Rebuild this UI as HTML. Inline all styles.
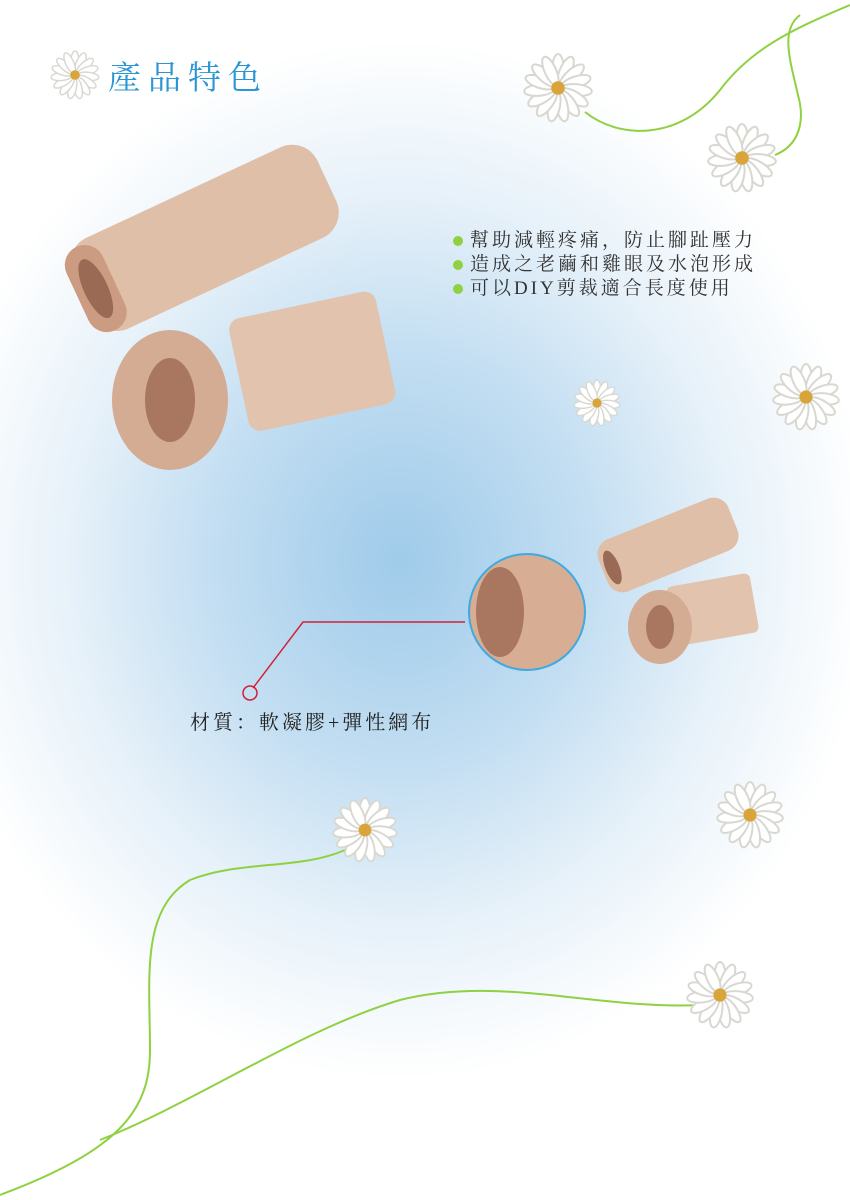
<!DOCTYPE html>
<html><head><meta charset="utf-8"><style>
body{margin:0}
#p{position:relative;width:850px;height:1200px;overflow:hidden;background:radial-gradient(ellipse 470px 520px at 400px 560px,#9fcbea 0%,#c3def2 40%,#e6f1f9 70%,#fff 100%);font-family:"Liberation Serif","Noto Serif CJK SC",serif}
.t{position:absolute;white-space:nowrap}
</style></head><body><div id="p">
<svg width="850" height="1200" style="position:absolute;left:0;top:0">
<defs>
<g id="d"><g fill="#fff" stroke="#d8d8d0" stroke-width="0.06">
<ellipse cx="0" cy="-0.55" rx="0.17" ry="0.45"/><ellipse cx="0" cy="-0.55" rx="0.17" ry="0.45" transform="rotate(24)"/><ellipse cx="0" cy="-0.55" rx="0.17" ry="0.45" transform="rotate(48)"/><ellipse cx="0" cy="-0.55" rx="0.17" ry="0.45" transform="rotate(72)"/><ellipse cx="0" cy="-0.55" rx="0.17" ry="0.45" transform="rotate(96)"/><ellipse cx="0" cy="-0.55" rx="0.17" ry="0.45" transform="rotate(120)"/><ellipse cx="0" cy="-0.55" rx="0.17" ry="0.45" transform="rotate(144)"/><ellipse cx="0" cy="-0.55" rx="0.17" ry="0.45" transform="rotate(168)"/><ellipse cx="0" cy="-0.55" rx="0.17" ry="0.45" transform="rotate(192)"/><ellipse cx="0" cy="-0.55" rx="0.17" ry="0.45" transform="rotate(216)"/><ellipse cx="0" cy="-0.55" rx="0.17" ry="0.45" transform="rotate(240)"/><ellipse cx="0" cy="-0.55" rx="0.17" ry="0.45" transform="rotate(264)"/><ellipse cx="0" cy="-0.55" rx="0.17" ry="0.45" transform="rotate(288)"/><ellipse cx="0" cy="-0.55" rx="0.17" ry="0.45" transform="rotate(312)"/><ellipse cx="0" cy="-0.55" rx="0.17" ry="0.45" transform="rotate(336)"/></g>
<circle r="0.2" fill="#d9a53a"/></g>
</defs>
<g fill="none" stroke="#8fd140" stroke-width="2">
<path d="M585 112 C620 140 680 140 720 90 C750 50 790 30 850 5"/>
<path d="M775 155 C800 145 805 120 798 95 C790 60 780 30 800 15"/>
<path d="M345 850 C300 870 240 860 190 880 C140 910 150 980 150 1050 C150 1110 120 1150 0 1195"/>
<path d="M100 1140 C200 1100 300 1030 400 1000 C500 975 600 1010 700 1005"/>
</g>
<use href="#d" transform="translate(75,75) scale(24)"/>
<use href="#d" transform="translate(558,88) scale(34)"/>
<use href="#d" transform="translate(742,158) scale(34)"/>
<use href="#d" transform="translate(597,403) scale(23)"/>
<use href="#d" transform="translate(806,397) scale(33)"/>
<use href="#d" transform="translate(365,830) scale(32)"/>
<use href="#d" transform="translate(750,815) scale(33)"/>
<use href="#d" transform="translate(720,995) scale(33)"/>
<g transform="translate(200,240) rotate(-25)"><rect x="-130" y="-50" width="270" height="100" rx="28" fill="#e0bfa8"/><rect x="-135" y="-46" width="40" height="92" rx="20" fill="#cc9c82"/><ellipse cx="-115" cy="0" rx="12" ry="32" fill="#9a6a55"/></g>
<g transform="translate(260,380) rotate(-12)"><rect x="-20" y="-65" width="150" height="115" rx="12" fill="#e2c4ae"/></g>
<ellipse cx="170" cy="400" rx="58" ry="70" fill="#d4ab93"/>
<ellipse cx="170" cy="400" rx="25" ry="42" fill="#a97760"/>
<g transform="translate(668,545) rotate(-22)"><rect x="-70" y="-28" width="140" height="56" rx="16" fill="#e0bfa8"/><ellipse cx="-60" cy="0" rx="7" ry="18" fill="#9a6a55"/></g>
<rect x="670" y="580" width="85" height="60" rx="6" fill="#e2c4ae" transform="rotate(-10 710 610)"/>
<ellipse cx="660" cy="627" rx="32" ry="37" fill="#d4ab93"/><ellipse cx="660" cy="627" rx="14" ry="22" fill="#a97760"/>
<circle cx="527" cy="612" r="58" fill="#d7ad94" stroke="#3fa9e0" stroke-width="2"/>
<ellipse cx="500" cy="612" rx="24" ry="45" fill="#a97760"/>
<polyline points="253,688 303,622 465,622" fill="none" stroke="#d0203a" stroke-width="1.5"/>
<circle cx="250" cy="693" r="7" fill="none" stroke="#d0203a" stroke-width="1.5"/>
<circle cx="458" cy="241" r="5" fill="#8fd140"/><circle cx="458" cy="265" r="5" fill="#8fd140"/><circle cx="458" cy="289" r="5" fill="#8fd140"/>
</svg>
<div class="t" style="left:108px;top:52px;font-size:33px;color:#2a96d6;letter-spacing:7px">產品特色</div>
<div class="t" style="left:470px;top:229px;font-size:19px;line-height:24px;color:#333;letter-spacing:3px">幫助減輕疼痛，防止腳趾壓力<br>造成之老繭和雞眼及水泡形成<br>可以DIY剪裁適合長度使用</div>
<div class="t" style="left:190px;top:706px;font-size:20px;color:#222;letter-spacing:3px">材質：軟凝膠+彈性網布</div>
</div></body></html>
